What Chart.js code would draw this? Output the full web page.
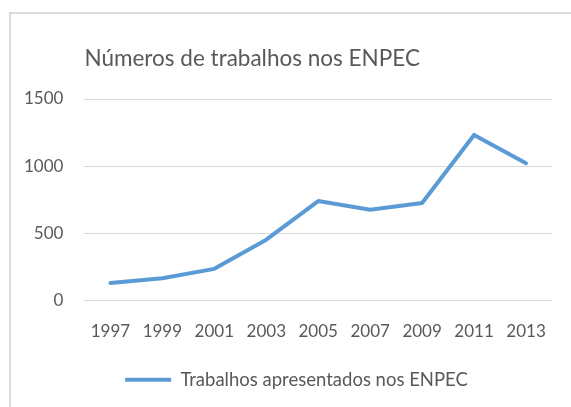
<!DOCTYPE html>
<html>
<head>
<meta charset="utf-8">
<script src="https://cdn.jsdelivr.net/npm/chart.js@4"></script>
<style>
    html, body { margin: 0; padding: 0; background: #fff; }
    #wrap { position: relative; width: 571px; height: 407px; }
    #frame { position: absolute; left: 9px; top: 12px; right: 0; bottom: 0;
             border-left: 2px solid #d9d9d9; border-top: 2px solid #d9d9d9; }
    #chart { position: absolute; left: 0; top: 0; }
</style>
</head>
<body>
<div id="wrap">
    <div id="frame"></div>
    <canvas id="chart" width="571" height="407"></canvas>
</div>
<script>
const years = ['1997', '1999', '2001', '2003', '2005', '2007', '2009', '2011', '2013'];
const trabalhos = [128, 163, 233, 451, 739, 674, 724, 1232, 1021];
const yTicks = [0, 500, 1000, 1500];

const textColor = '#595959';
const fontFamily = 'Lato, "Liberation Sans", sans-serif';

// nudge the legend a bit to the right, like in the original
const legendShift = {
    id: 'legendShift',
    afterLayout(chart) {
        chart.legend.left += 19;
        chart.legend.right += 19;
    },
};

const ctx = document.getElementById('chart').getContext('2d');
new Chart(ctx, {
    type: 'line',
    data: {
        labels: years,
        datasets: [{
            label: 'Trabalhos apresentados nos ENPEC',
            data: trabalhos,
            borderColor: '#5b9bd5',
            backgroundColor: '#5b9bd5',
            borderWidth: 4,
            borderCapStyle: 'round',
            borderJoinStyle: 'round',
            pointRadius: 0,
            pointStyle: 'line',
            tension: 0,
        }],
    },
    options: {
        responsive: false,
        animation: false,
        layout: { padding: { left: 3, right: 19, top: 14, bottom: 8 } },
        plugins: {
            title: {
                display: true,
                text: 'Números de trabalhos nos ENPEC',
                align: 'start',
                fullSize: false,
                color: textColor,
                font: { family: fontFamily, size: 22.5, weight: 'normal' },
                padding: { top: 31, bottom: 27 },
            },
            legend: {
                position: 'bottom',
                labels: {
                    usePointStyle: true,
                    pointStyleWidth: 46,
                    color: textColor,
                    font: { family: fontFamily, size: 18.5 },
                },
            },
            tooltip: { enabled: false },
        },
        scales: {
            x: {
                offset: true,
                grid: { display: false },
                border: { display: false },
                ticks: { color: textColor, font: { family: fontFamily, size: 17 }, padding: 13, maxRotation: 0 },
                // a little extra room between the year labels and the legend
                afterFit: axis => { axis.height += 6; },
            },
            y: {
                min: 0,
                max: 1500,
                afterBuildTicks: axis => { axis.ticks = yTicks.map(v => ({ value: v })); },
                grid: { color: '#d9d9d9', drawTicks: false },
                border: { display: false },
                ticks: { color: textColor, font: { family: fontFamily, size: 17 }, padding: 21, callback: v => String(v) },
            },
        },
    },
    plugins: [legendShift],
});
</script>
</body>
</html>
